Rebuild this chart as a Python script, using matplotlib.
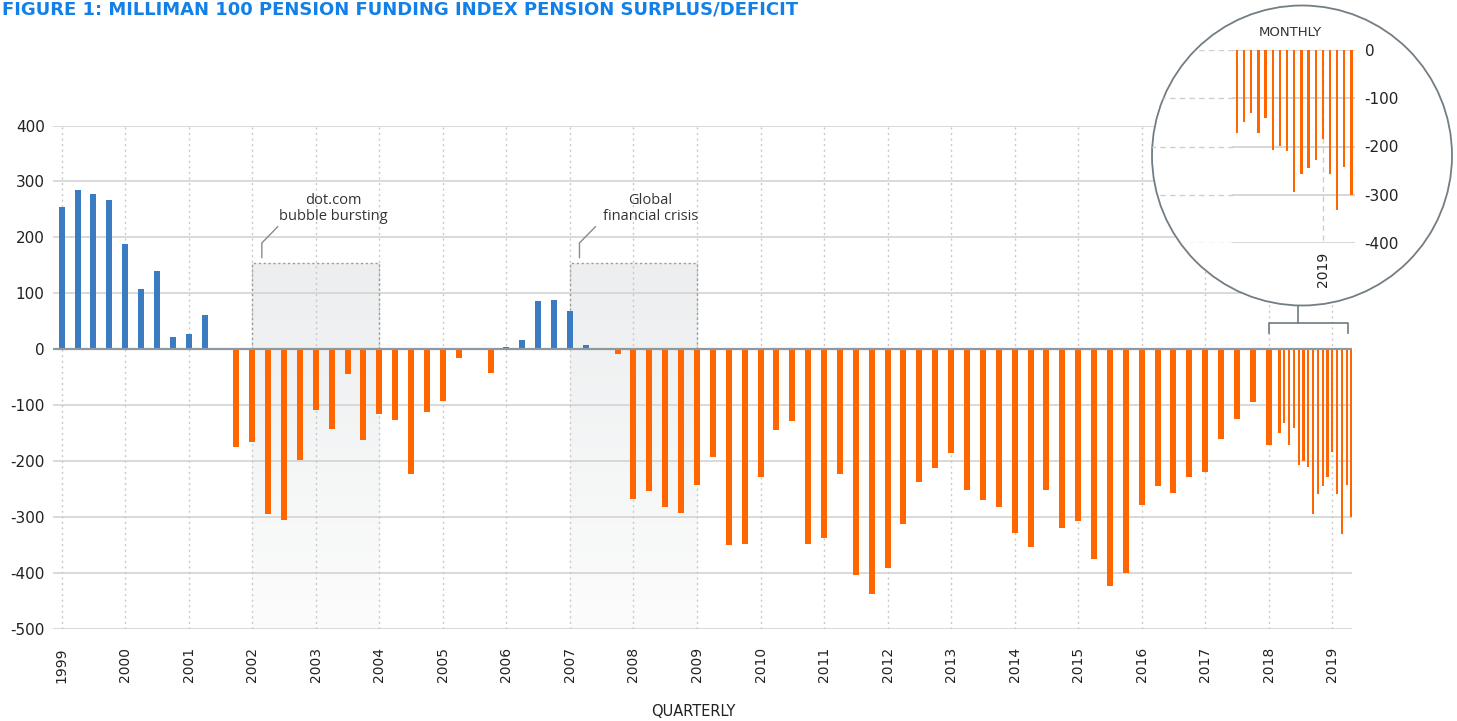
import numpy as np
import matplotlib.pyplot as plt
from matplotlib.patches import Circle

# Milliman 100 PFI - superavit/deficit (miles de millones USD)
# trimestral 1999Q1 - 2017Q4
trimestral = [254, 284, 277, 266, 188, 108, 140, 22, 27, 61, 1, -174,
              -165, -294, -305, -198, -108, -143, -45, -163, -115, -127, -223, -113,
              -93, -15, -2, -43, 4, 17, 86, 88, 68, 8, 1, -8,
              -268, -254, -282, -293, -243, -193, -350, -348, -229, -145, -129, -348,
              -338, -223, -404, -437, -391, -313, -238, -213, -186, -252, -270, -282,
              -329, -354, -252, -320, -307, -375, -423, -400, -279, -245, -257, -229,
              -220, -161, -124, -95]
# mensual ene 2018 - may 2019
mensual = [-171, -149, -131, -171, -140, -207, -199, -210, -295, -258, -244, -228,
           -184, -258, -331, -242, -300]
anios = list(range(1999, 2020))
yticks = [400, 300, 200, 100, 0, -100, -200, -300, -400, -500]
yticks_ins = [0, -100, -200, -300, -400]
periodos = [(2002, 2004, 'dot.com\nbubble bursting'),
            (2007, 2009, 'Global\nfinancial crisis')]

#--------------------------------
azul = '#3a7bc1'
naranja = '#ff6600'
gris = '#d3d3d3'
texto = '#222222'
W, H = 1457, 721

fig = plt.figure(figsize=(W/100., H/100.), dpi=100)
fig.patch.set_facecolor('white')

# eje principal
ax = fig.add_axes([53./W, (H-629.)/H, (1352.-53.)/W, (629.-125.5)/H])
for s in ax.spines.values():
    s.set_visible(False)

x0, x1 = 1998.863, 2019.31
for v in yticks:
    if v == 0:
        continue
    ax.plot([x0, x1], [v, v], color=gris, lw=1.2, zorder=1)
for a in anios:
    ax.plot([a, a], [-500, 400], color='#c9c9c9', lw=1.0, ls=(0, (1.5, 2.5)), zorder=1)

# zonas sombreadas
grad = np.linspace(0, 1, 256)
c_top = np.array([236, 238, 239]) / 255.
c_bot = np.array([252, 252, 252]) / 255.
img = (c_top[None, :] * (1 - grad[:, None]) + c_bot[None, :] * grad[:, None])[:, None, :]
top_box = 154
for (p0, p1, lab) in periodos:
    ax.imshow(img, extent=[p0, p1, -500, top_box], aspect='auto', zorder=0.5)
    ax.plot([p0, p0, p1, p1], [0, top_box, top_box, 0], color='#9a9a9a', lw=1.0,
            ls=(0, (1.5, 2)), zorder=2)
    lx = p0 + 0.15
    ax.plot([lx, lx, lx + 0.25], [164, 190, 219], color='#8a8a8a', lw=1.0, zorder=2)
    ax.text(p0 + 1.27, 251, lab, ha='center', va='center', fontsize=10.5,
            family=['Open Sans', 'DejaVu Sans'], color='#333333', linespacing=1.1)

# barras trimestrales
xq = [1999 + 0.25 * i for i in range(len(trimestral))]
cq = [azul if v > 0 else naranja for v in trimestral]
ax.bar(xq, trimestral, width=0.094, color=cq, zorder=3)
# primer mes de 2018 como barra ancha, el resto finas
paso_mes = 0.0756
ax.bar([2018.0], mensual[:1], width=0.094, color=naranja, zorder=3)
xm = [2019 + (m - 12) * paso_mes for m in range(1, len(mensual))]
ax.bar(xm, mensual[1:], width=0.034, color=naranja, zorder=3)

ax.plot([x0, x1], [0, 0], color='#8e989d', lw=1.6, zorder=4)

# corchete y conector al circulo
ax.plot([2018.0, 2018.0, 2019.24, 2019.24], [29, 47.5, 47.5, 29], color='#6f7a80', lw=1.2, zorder=4)
ax.plot([2018.46, 2018.46], [47.5, 80], color='#6f7a80', lw=1.2, zorder=4)

ax.set_xlim(x0, x1)
ax.set_ylim(-500, 400)
ax.set_yticks(yticks)
ax.set_yticklabels([str(v) for v in yticks])
ax.set_xticks(anios)
ax.set_xticklabels([str(a) for a in anios], rotation=90, va='top', ha='center')
ax.tick_params(axis='y', length=0, pad=6, labelsize=11, labelcolor=texto)
ax.tick_params(axis='x', length=0, pad=13, labelsize=10, labelcolor=texto)
ax.set_facecolor('none')

fig.text(693./W, 1 - 712./H, 'QUARTERLY', ha='center', va='center', fontsize=10.5, color=texto)
fig.text(0.0015, 1 - 1./H, 'FIGURE 1: MILLIMAN 100 PENSION FUNDING INDEX PENSION SURPLUS/DEFICIT',
         ha='left', va='top', fontsize=13, fontweight='bold', color='#1380e8',
         family=['Liberation Sans Narrow', 'DejaVu Sans'])

# lupa mensual
circ = Circle((13.02, (H - 155.5) / 100.), 1.5, transform=fig.dpi_scale_trans,
              facecolor='white', edgecolor='#737d83', lw=1.3, zorder=1)
fig.patches.append(circ)
circ.set_figure(fig)

ax2 = fig.add_axes([1150./W, (H-243.)/H, 205./W, 193./H], zorder=2)
ax2.set_facecolor('none')
for s in ax2.spines.values():
    s.set_visible(False)
xl = 16.5 - 205. / 7.15
for v in yticks_ins:
    l, = ax2.plot([xl, -0.56], [v, v], color='#cfcfcf', lw=1.0, ls=(0, (4, 3)), zorder=1)
    l.set_clip_path(circ)
    ax2.plot([-0.56, 16.5], [v, v], color='#cfcfcf', lw=1.2, zorder=1)
ax2.plot([12, 12], [0, -400], color='#cfcfcf', lw=1.0, ls=(0, (4, 3)), zorder=1)
ax2.bar(range(len(mensual)), mensual, width=0.32, color=naranja, zorder=3)
ax2.set_xlim(xl, 16.5)
ax2.set_ylim(-400, 0)
ax2.set_xticks([])
ax2.yaxis.tick_right()
ax2.set_yticks(yticks_ins)
ax2.set_yticklabels([str(v) for v in yticks_ins])
ax2.tick_params(axis='y', length=0, pad=7, labelsize=11, labelcolor=texto)
ax2.annotate('2019', (12, -400), xytext=(0, -6), textcoords='offset points',
             rotation=90, ha='center', va='top', fontsize=10, color=texto)
fig.text(1290./W, 1 - 33./H, 'MONTHLY', ha='center', va='center', fontsize=9.5, color='#333333')

plt.savefig('out.png', dpi=100)
